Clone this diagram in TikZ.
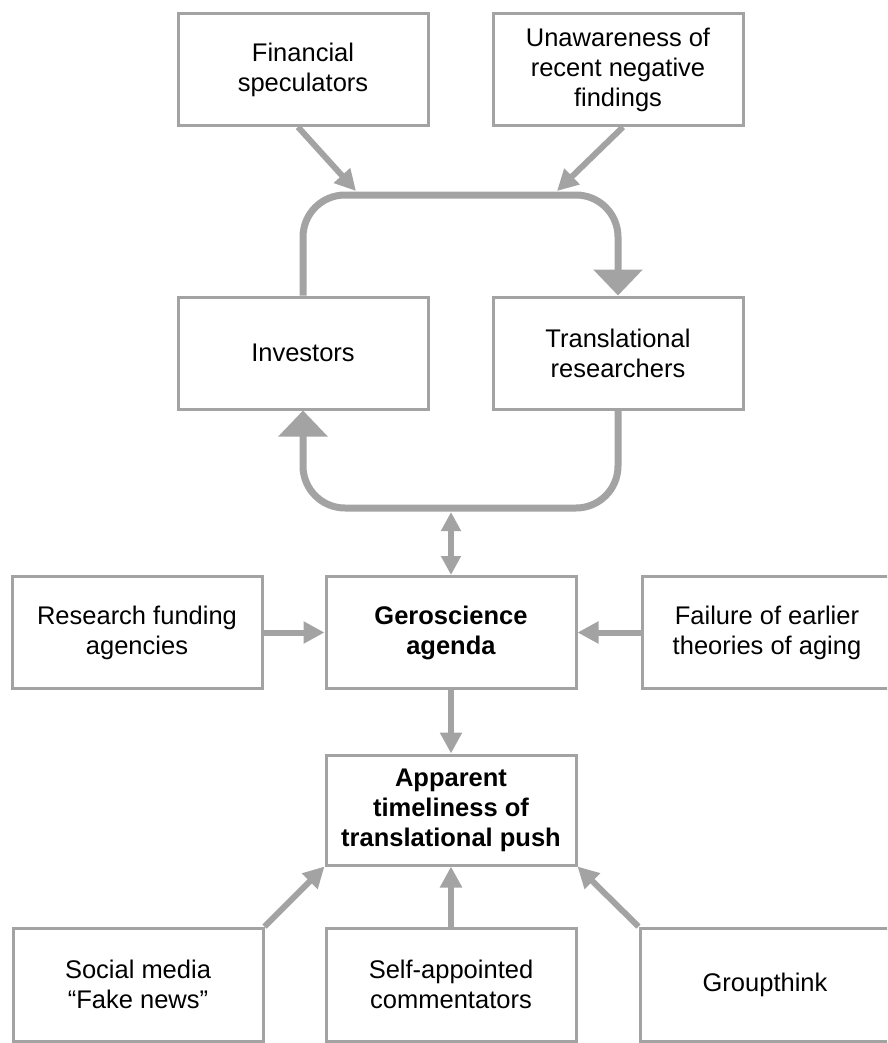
\documentclass[tikz,border=0pt]{standalone}
\usepackage{fontspec}
\setmainfont{Liberation Sans}
\usetikzlibrary{arrows.meta}
\definecolor{linegray}{RGB}{163,163,163}

\begin{document}
\begin{tikzpicture}[x=1pt, y=-1pt, every node/.style={align=center, font=\fontsize{25.5}{30}\selectfont},
    box/.style={draw=linegray, line width=3pt, fill=white, minimum width=250pt, minimum height=112pt, inner sep=0pt},
    flow/.style={draw=linegray, line width=6pt, -{Triangle[width=21pt,length=21pt]}},
    twoway/.style={draw=linegray, line width=5.5pt, {Triangle[width=19pt,length=19pt]}-{Triangle[width=19pt,length=19pt]}},
    loopline/.style={draw=linegray, line width=7pt, rounded corners=42pt, -{Triangle[width=48pt,length=26pt]}}]

\useasboundingbox (0,0) rectangle (887,1043);
\clip (0,0) rectangle (887,1043);

% nodes ---
\node [box] (fin) at (303,69.5) {Financial\\speculators};
\node [box] (unaw) at (618,69.5) {Unawareness of\\recent negative\\findings};

\node [box] (inv) at (303,353) {Investors};
\node [box] (trans) at (618,353) {Translational\\researchers};

\node [box] (fund) at (137,632.5) {Research funding\\agencies};
\node [box] (gero) at (451,632.5) {\textbf{Geroscience}\\\textbf{agenda}};
\node [box] (fail) at (767,632.5) {Failure of earlier\\theories of aging};

\node [box, minimum height=110pt] (appar) at (451,810) {\textbf{Apparent}\\\textbf{timeliness of}\\\textbf{translational push}};

\node [box, minimum height=113pt] (social) at (138,984.5) {Social media\\“Fake news”};
\node [box, minimum height=113pt] (self) at (451,984.5) {Self-appointed\\commentators};
\node [box, minimum height=113pt] (group) at (765,984.5) {Groupthink};

\coordinate (lt) at (356,191);
\coordinate (rt) at (557,191);
\coordinate (lb) at (451,512);

% the loop between investors and researchers
\draw [loopline] (inv.north) -- (303,195) -- (618,195) -- (trans.north);
\draw [loopline] (trans.south) -- (618,508) -- (303,508) -- (inv.south);

\draw [flow] ([xshift=-5pt]fin.south) -- (lt);
\draw [flow] ([xshift=5pt]unaw.south) -- (rt);
\draw [twoway] (lb) -- (gero.north);

\draw [flow] (fund.east) -- (gero.west);
\draw [flow] (fail.west) -- (gero.east);
\draw [flow] (gero.south) -- (appar.north);

\draw [flow] (social.north east) -- (appar.south west);
\draw [flow] (self.north) -- (appar.south);
\draw [flow] (group.north west) -- (appar.south east);

\end{tikzpicture}
\end{document}
